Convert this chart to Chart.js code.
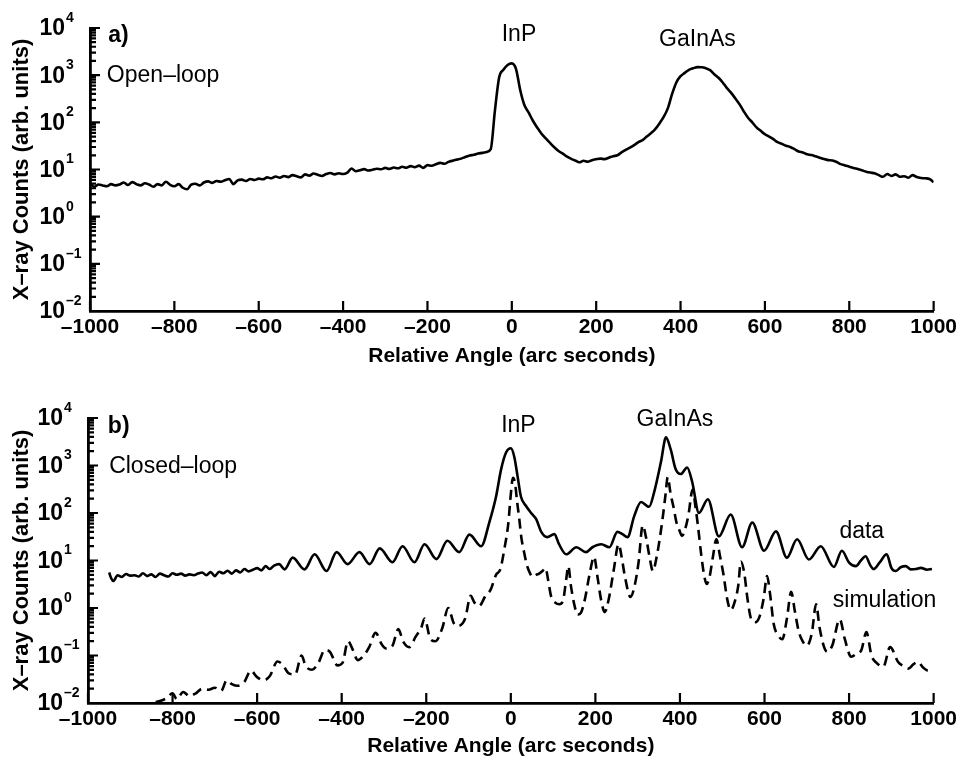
<!DOCTYPE html>
<html>
<head>
<meta charset="utf-8">
<script src="https://cdn.jsdelivr.net/npm/chart.js@4.4.0/dist/chart.umd.min.js"></script>
<style>
  body { margin: 0; background: #fff; }
  .panel { position: absolute; left: 0; }
  #openLoop { top: 0; }
  #closedLoop { top: 380px; }
</style>
</head>
<body>
<canvas id="openLoop" class="panel" width="961" height="380"></canvas>
<canvas id="closedLoop" class="panel" width="961" height="377"></canvas>
<script>
const FONT = "'Liberation Sans', Arial, Helvetica, sans-serif";

// x axis tick labels (arc seconds) and y decades (powers of ten)
const angleTicks = [-1000, -800, -600, -400, -200, 0, 200, 400, 600, 800, 1000];
const decadeExps = [-2, -1, 0, 1, 2, 3, 4];

// a) open-loop scan
const openAngle = [
  -1000, -990, -980, -970, -960, -950, -940, -930, -920, -910,
  -900, -890, -880, -870, -860, -850, -840, -830, -820, -810,
  -800, -790, -780, -770, -760, -750, -740, -730, -720, -710,
  -700, -690, -680, -670, -660, -650, -640, -630, -620, -610,
  -600, -590, -580, -570, -560, -550, -540, -530, -520, -510,
  -500, -490, -480, -470, -460, -450, -440, -430, -420, -410,
  -400, -390, -380, -370, -360, -350, -340, -330, -320, -310,
  -300, -290, -280, -270, -260, -250, -240, -230, -220, -210,
  -200, -190, -180, -170, -160, -150, -140, -130, -120, -110,
  -100, -90, -80, -70, -60, -50, -40, -30, -20, -10,
  0, 10, 20, 30, 40, 50, 60, 70, 80, 90,
  100, 110, 120, 130, 140, 150, 160, 170, 180, 190,
  200, 210, 220, 230, 240, 250, 260, 270, 280, 290,
  300, 310, 320, 330, 340, 350, 360, 370, 380, 390,
  400, 410, 420, 430, 440, 450, 460, 470, 480, 490,
  500, 510, 520, 530, 540, 550, 560, 570, 580, 590,
  600, 610, 620, 630, 640, 650, 660, 670, 680, 690,
  700, 710, 720, 730, 740, 750, 760, 770, 780, 790,
  800, 810, 820, 830, 840, 850, 860, 870, 880, 890,
  900, 910, 920, 930, 940, 950, 960, 970, 980, 990,
  1000
];
const openCounts = [
  5.2, 4.3, 4.8, 4.6, 4.4, 4.9, 4.6, 4.8, 5.3, 4.7,
  5.4, 4.9, 4.6, 5.1, 4.8, 4.3, 4.9, 4.6, 5.5, 4.7,
  4.4, 4.9, 4.1, 3.8, 4.8, 5.0, 4.6, 5.3, 5.6, 5.2,
  5.7, 5.5, 5.9, 6.3, 4.9, 5.9, 6.1, 5.7, 6.3, 6.0,
  6.4, 6.2, 6.8, 6.5, 7.1, 6.7, 7.3, 6.9, 7.6, 7.2,
  6.8, 7.9, 7.4, 8.2, 7.7, 7.3, 8.0, 8.4, 7.9, 8.3,
  8.0, 8.6, 10.5, 9.2, 9.6, 10.2, 9.5, 9.9, 10.4, 10.1,
  10.8, 10.3, 11.0, 10.6, 11.4, 10.9, 11.8, 11.2, 12.1, 10.8,
  12.4, 12.0, 12.9, 13.8, 13.2, 14.5, 15.4, 16.2, 17.0, 18.4,
  19.8, 20.5, 21.8, 22.5, 23.5, 27, 180, 900, 1300, 1650,
  1780, 1350, 480, 230, 160, 108, 78, 58, 46, 37,
  30, 25, 22, 19, 17, 15.5, 14.2, 15.3, 14.6, 15.8,
  16.5, 17.0, 16.6, 17.8, 19.2, 20.0, 23, 26, 29, 33,
  38, 42, 50, 59, 72, 95, 130, 200, 400, 700,
  950, 1120, 1300, 1400, 1480, 1470, 1400, 1280, 1050, 880,
  700, 530, 420, 320, 240, 170, 125, 100, 78, 66,
  56, 50, 44, 38, 35, 32, 30, 27, 24, 23,
  21, 20.2, 19, 17.8, 16.6, 15.8, 15.5, 14.4, 13.0, 12.2,
  11.5, 10.8, 10.2, 9.6, 9.0, 8.6, 8.3, 7.6, 7.0, 8.0,
  7.3, 7.9, 7.0, 7.2, 6.7, 7.6, 6.9, 6.6, 6.5, 6.3,
  5.4
];

// b) closed-loop scan, measured data
const closedAngle = [
  -950, -945, -940, -930, -920, -910, -900, -890, -880, -870,
  -860, -850, -840, -830, -820, -810, -800, -790, -780, -770,
  -760, -750, -740, -730, -720, -710, -700, -690, -680, -670,
  -660, -650, -640, -630, -620, -610, -600, -590, -580, -570,
  -560, -548, -535, -516, -488, -464, -436, -412, -386, -358,
  -334, -310, -280, -256, -228, -204, -176, -150, -122, -98,
  -70, -51, -35, -23, -11, 0, 8, 16, 24, 36,
  48, 60, 72, 86, 103, 114, 131, 155, 178, 193,
  214, 233, 252, 264, 276, 292, 308, 327, 339, 355,
  367, 378, 390, 402, 417, 429, 445, 466, 492, 520,
  547, 571, 599, 627, 653, 677, 705, 733, 764, 783,
  800, 816, 828, 839, 850, 858, 872, 889, 900, 910,
  922, 934, 946, 958, 970, 984, 996
];
const closedCounts = [
  5.6, 4.2, 3.7, 4.9, 4.5, 5.2, 4.8, 4.9, 4.6, 5.4,
  4.7, 5.1, 4.5, 5.3, 4.9, 4.6, 5.4, 5.0, 5.3, 4.8,
  5.1, 4.9, 5.3, 5.6, 4.9, 5.7, 4.7, 5.8, 5.4, 6.1,
  5.3, 6.2, 5.6, 6.6, 5.9, 6.4, 6.9, 6.2, 7.6, 6.6,
  7.8, 8.4, 6.5, 11.5, 6.5, 13.5, 6.0, 15, 8.4, 15,
  8.4, 18, 9.2, 20, 9.2, 22, 10.7, 26, 15, 35,
  20, 63, 220, 830, 1900, 2300, 1550, 590, 220, 140,
  100, 74, 40, 31, 36, 22, 13.5, 19, 15, 19,
  22, 19, 40, 36, 31, 87, 170, 135, 275, 1180,
  3900, 2200, 830, 660, 910, 450, 100, 195, 32, 93,
  19, 63, 16, 41, 11.5, 28, 10.5, 20, 7.3, 16,
  9, 7.6, 10, 12.3, 8, 6.6, 9, 13.5, 7, 6,
  7.2, 7.6, 6.5, 6.6, 7, 6.4, 6.6
];

// b) closed-loop, simulation
const simAngle = [
  -840, -830, -815, -800, -790, -775, -760, -745, -730, -715,
  -700, -685, -672, -660, -645, -630, -615, -600, -585, -570,
  -552, -540, -525, -510, -495, -485, -470, -455, -440, -428,
  -410, -398, -385, -375, -362, -348, -335, -320, -305, -295,
  -280, -266, -255, -240, -225, -212, -204, -190, -178, -162,
  -148, -135, -125, -108, -95, -86, -75, -60, -48, -35,
  -25, -15, -6, 0, 5, 10, 15, 20, 25, 32,
  38, 45, 52, 60, 67, 75, 82, 88, 95, 105,
  115, 124, 131, 136, 142, 150, 158, 166, 175, 186,
  197, 205, 214, 222, 232, 243, 255, 262, 270, 283,
  293, 302, 312, 320, 328, 336, 345, 352, 360, 366,
  371, 378, 385, 392, 398, 405, 412, 420, 430, 437,
  443, 450, 457, 463, 470, 478, 486, 495, 503, 512,
  520, 530, 538, 544, 552, 560, 568, 578, 588, 598,
  606, 613, 622, 633, 642, 653, 663, 672, 681, 690,
  700, 712, 722, 730, 740, 748, 760, 778, 790, 805,
  818, 829, 841, 853, 865, 881, 897, 916, 928, 940,
  952, 963, 975, 987, 1000
];
const simCounts = [
  0.0105, 0.011, 0.0125, 0.016, 0.012, 0.017, 0.014, 0.016, 0.02, 0.019,
  0.021, 0.018, 0.03, 0.025, 0.023, 0.028, 0.048, 0.035, 0.03, 0.037,
  0.075, 0.065, 0.042, 0.04, 0.1, 0.06, 0.05, 0.07, 0.13, 0.12,
  0.062, 0.07, 0.2, 0.14, 0.08, 0.1, 0.15, 0.3, 0.17, 0.14,
  0.16, 0.36, 0.2, 0.15, 0.25, 0.38, 0.6, 0.22, 0.2, 0.38,
  1.0, 0.48, 0.42, 0.6, 1.8, 1.3, 1.1, 1.8, 2.4, 5,
  6.5, 18, 60, 250, 550, 420, 170, 75, 30, 14,
  8, 5.5, 4.5, 5, 5.3, 6, 7, 4, 1.8, 1.3,
  1.2, 1.5, 4, 7.6, 3, 1.2, 0.72, 0.8, 1.5, 5,
  12, 4.5, 1.4, 0.82, 1.6, 6, 22, 12, 4.5, 1.7,
  3, 9, 55, 30, 12, 6, 12, 28, 90, 250,
  570, 250, 130, 62, 45, 33, 45, 90, 310, 130,
  50, 14, 5, 3.2, 4.5, 12, 28, 12, 5, 1.5,
  0.9, 1.4, 3, 9.5, 5.5, 1.5, 0.6, 0.5, 0.65, 1.6,
  4.7, 2, 0.45, 0.26, 0.22, 0.6, 2.2, 0.83, 0.32, 0.2,
  0.16, 0.3, 1.2, 0.4, 0.16, 0.12, 0.16, 0.58, 0.22, 0.094,
  0.11, 0.13, 0.31, 0.1, 0.07, 0.058, 0.15, 0.073, 0.06, 0.053,
  0.065, 0.073, 0.056, 0.048, 0.05
];

function toPoints(xs, ys) {
  return xs.map(function (v, i) { return { x: v, y: ys[i] }; });
}

function isDecade(v) {
  const lg = Math.log10(v);
  return Math.abs(lg - Math.round(lg)) < 1e-6;
}

// inward tick marks, 10^n labels and the text notes inside the plot
const axisDecor = {
  id: 'axisDecor',
  afterDraw(chart, args, opts) {
    const ctx = chart.ctx;
    const area = chart.chartArea;
    const xs = chart.scales.x;
    const ys = chart.scales.y;
    ctx.save();
    ctx.strokeStyle = '#000';
    ctx.lineWidth = 2.2;
    ctx.beginPath();
    xs.ticks.forEach(function (t) {
      const px = xs.getPixelForValue(t.value);
      ctx.moveTo(px, area.bottom);
      ctx.lineTo(px, area.bottom - 10);
    });
    ys.ticks.forEach(function (t) {
      const py = ys.getPixelForValue(t.value);
      ctx.moveTo(area.left, py);
      ctx.lineTo(area.left + (isDecade(t.value) ? 10 : 6), py);
    });
    ctx.stroke();

    ctx.fillStyle = '#000';
    ctx.textBaseline = 'middle';
    ys.ticks.forEach(function (t) {
      if (!isDecade(t.value)) return;
      const py = ys.getPixelForValue(t.value);
      const exp = Math.round(Math.log10(t.value));
      ctx.font = 'bold 23px ' + FONT;
      ctx.textAlign = 'right';
      ctx.fillText('10', area.left - 25, py + 1);
      ctx.font = 'bold 14px ' + FONT;
      ctx.textAlign = 'left';
      ctx.fillText(exp < 0 ? '–' + (-exp) : String(exp), area.left - 24, py - 10);
    });

    (opts.notes || []).forEach(function (n) {
      ctx.font = (n.bold ? 'bold ' : '') + '23px ' + FONT;
      ctx.textAlign = n.align || 'center';
      ctx.fillText(n.text, xs.getPixelForValue(n.x), ys.getPixelForValue(n.y));
    });
    ctx.restore();
  }
};

function makePanel(id, datasets, box, notes) {
  return new Chart(document.getElementById(id), {
    type: 'line',
    data: { datasets: datasets },
    plugins: [axisDecor],
    options: {
      responsive: false,
      animation: false,
      events: [],
      layout: { padding: { top: box.top, right: box.right, left: 0, bottom: 0 } },
      plugins: {
        legend: { display: false },
        tooltip: { enabled: false },
        axisDecor: { notes: notes }
      },
      scales: {
        x: {
          type: 'linear',
          min: -1000,
          max: 1000,
          afterBuildTicks: function (s) { s.ticks = angleTicks.map(function (v) { return { value: v }; }); },
          afterFit: function (s) { s.height = box.xHeight; },
          grid: { display: false, drawTicks: false },
          border: { display: true, color: '#000', width: 2.8 },
          ticks: {
            color: '#000',
            padding: 4,
            maxRotation: 0,
            autoSkip: false,
            font: { family: FONT, size: 21, weight: 'bold', lineHeight: 1.2 },
            callback: function (v) { return v < 0 ? '–' + (-v) : String(v); }
          },
          title: {
            display: true,
            text: 'Relative Angle (arc seconds)',
            color: '#000',
            font: { family: FONT, size: 21, weight: 'bold', lineHeight: box.titleLH },
            padding: { top: 0, bottom: box.titlePad }
          }
        },
        y: {
          type: 'logarithmic',
          min: 0.01,
          max: 10000,
          afterBuildTicks: function (s) {
            const list = [];
            decadeExps.forEach(function (e) {
              list.push({ value: Math.pow(10, e), major: true });
              if (e < decadeExps[decadeExps.length - 1]) {
                for (let m = 2; m <= 9; m++) list.push({ value: m * Math.pow(10, e) });
              }
            });
            s.ticks = list;
          },
          afterFit: function (s) { s.width = box.yWidth; },
          grid: { display: false, drawTicks: false },
          border: { display: true, color: '#000', width: 2.8 },
          ticks: { display: false },
          title: {
            display: true,
            text: 'X–ray Counts (arb. units)',
            color: '#000',
            font: { family: FONT, size: 22, weight: 'bold', lineHeight: 1.2 },
            padding: { top: 9, bottom: 0 }
          }
        }
      }
    }
  });
}

const lineStyle = {
  borderColor: '#000',
  borderWidth: 2.6,
  pointRadius: 0,
  fill: false,
  cubicInterpolationMode: 'monotone'
};

makePanel('openLoop', [
  Object.assign({ label: 'Open-loop', data: toPoints(openAngle, openCounts) }, lineStyle)
], { top: 28, right: 27, yWidth: 90, xHeight: 69, titlePad: 11, titleLH: 1.2 }, [
  { text: 'a)', x: -957, y: 7000, align: 'left', bold: true },
  { text: 'Open–loop', x: -960, y: 1000, align: 'left' },
  { text: 'InP', x: 17, y: 7400 },
  { text: 'GaInAs', x: 440, y: 5750 }
]);

makePanel('closedLoop', [
  Object.assign({ label: 'data', data: toPoints(closedAngle, closedCounts) }, lineStyle),
  Object.assign({ label: 'simulation', data: toPoints(simAngle, simCounts) }, lineStyle, { borderDash: [10, 6] })
], { top: 38, right: 26, yWidth: 88, xHeight: 54, titlePad: 0, titleLH: 1.0 }, [
  { text: 'b)', x: -953, y: 6500, align: 'left', bold: true },
  { text: 'Closed–loop', x: -950, y: 930, align: 'left' },
  { text: 'InP', x: 18, y: 6800 },
  { text: 'GaInAs', x: 388, y: 9100 },
  { text: 'data', x: 830, y: 40 },
  { text: 'simulation', x: 884, y: 1.4 }
]);
</script>
</body>
</html>
